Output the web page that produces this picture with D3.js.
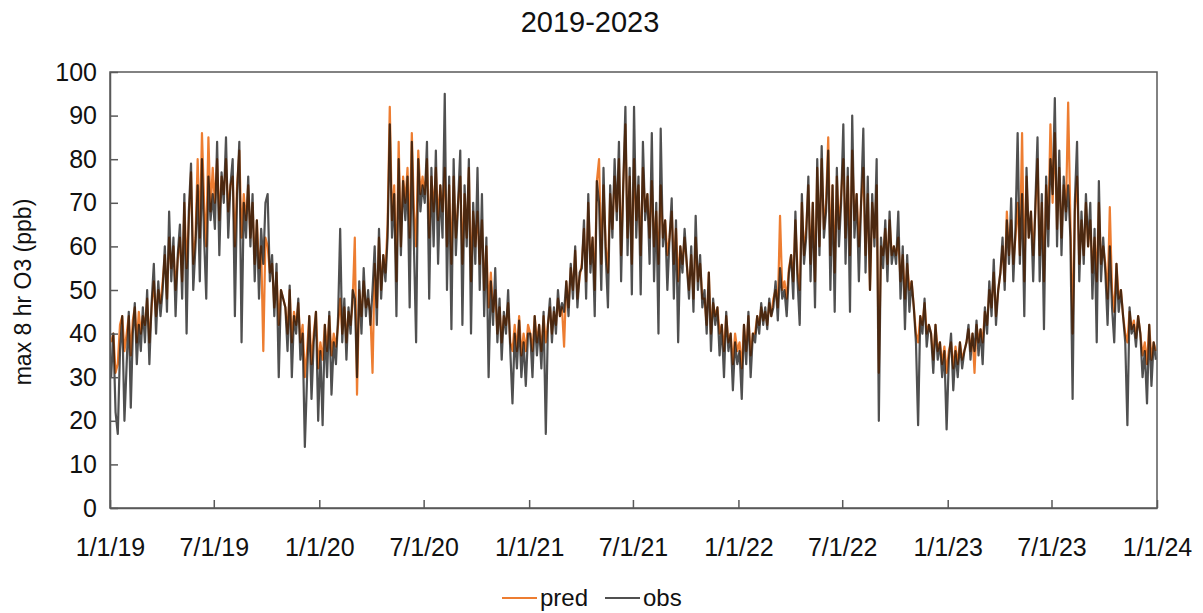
<!DOCTYPE html>
<html><head><meta charset="utf-8">
<script src="https://cdn.jsdelivr.net/npm/d3@7"></script>
<style>html,body{margin:0;padding:0;background:#fff;}svg{display:block;font-family:"Liberation Sans",Arial,sans-serif;}</style>
</head><body>
<svg id="chart" width="1203" height="613"></svg>
<script>
// 8 readings per month, Jan..Dec
const obs2019 = [30,40,22,17,36,44,20,33, 45,23,40,47,33,42,36,46, 38,50,33,47,56,40,52,44, 50,60,45,68,52,62,44,58,
  65,48,72,40,68,79,50,60, 74,52,80,62,48,76,66,72, 64,84,58,77,70,85,62,74, 80,44,72,84,38,70,62,76,
  60,72,52,66,48,64,56,70, 72,52,58,44,56,30,50,48, 46,36,51,30,44,40,48,34, 40,14,30,44,25,38,45,20];
const pred2019 = [38,40,31,33,42,44,36,40, 44,35,43,46,38,45,40,44, 42,48,38,46,52,44,50,47, 52,58,48,62,55,60,50,57,
  62,52,70,55,66,77,56,62, 80,62,86,70,60,85,68,78, 70,80,66,76,72,80,68,74, 76,60,74,82,62,72,66,74,
  62,70,56,66,55,60,36,62, 60,54,56,46,54,42,50,48, 46,40,50,38,45,42,47,38, 42,30,36,44,33,40,45,32];
const obs2020 = [36,19,42,30,45,26,38,33, 44,64,38,48,34,46,40,50, 48,30,52,40,55,44,50,42, 50,60,42,64,48,58,52,62,
  88,62,72,44,80,58,75,66, 76,46,84,60,38,80,68,74, 70,84,48,78,60,82,56,74, 62,95,50,76,41,80,58,70,
  82,42,74,60,80,40,70,56, 78,50,72,44,62,30,52,42, 55,38,48,34,45,40,50,36, 24,40,32,43,30,38,28,40];
const pred2020 = [38,34,42,36,44,35,40,37, 42,48,40,46,38,45,42,47, 62,26,50,44,52,46,48,45, 31,56,46,62,50,58,54,65,
  92,66,74,52,84,60,76,70, 78,62,86,68,60,82,72,76, 72,80,62,76,68,78,66,74, 68,78,60,74,56,76,62,70,
  76,56,72,62,78,52,68,60, 68,56,66,50,60,46,54,45, 50,40,46,38,44,42,47,38, 36,42,36,44,35,40,36,42];
const obs2021 = [40,30,44,35,42,32,45,17, 42,48,38,46,40,50,44,47, 45,52,44,56,48,60,46,54, 55,66,48,72,54,62,44,75,
  70,50,78,58,46,74,62,80, 66,84,52,74,92,58,78,49, 92,62,76,49,84,66,72,56, 86,52,70,40,87,60,66,50,
  62,71,48,66,38,60,54,64, 56,48,60,45,67,50,58,46, 50,40,54,36,48,42,46,35, 42,30,45,36,40,27,38,33];
const pred2021 = [40,36,44,38,42,36,44,38, 42,46,40,45,42,48,44,46, 37,52,46,55,50,59,48,53, 56,64,52,70,56,62,50,75,
  80,56,74,60,54,72,64,76, 68,80,58,74,88,62,76,56, 80,66,74,58,78,68,72,62, 75,60,68,56,74,62,66,58,
  62,68,56,64,52,60,56,62, 56,50,58,48,62,52,56,48, 48,42,54,40,47,44,46,40, 42,36,44,38,40,33,40,36];
const obs2022 = [36,25,42,33,45,30,40,38, 44,40,47,42,46,41,48,44, 46,52,43,55,48,50,44,54, 58,48,68,52,42,72,56,62,
  76,52,70,46,80,58,83,62, 68,82,50,74,45,78,60,70, 88,56,78,45,90,62,72,52, 70,87,54,76,50,72,60,80,
  20,62,55,66,52,68,56,60, 56,68,48,60,41,58,45,52, 46,38,19,44,40,48,37,42, 40,31,42,34,38,30,36,18];
const pred2022 = [38,32,42,36,44,35,40,40, 44,42,46,43,45,42,47,44, 48,50,46,67,50,52,48,55, 58,52,66,54,50,70,58,64,
  74,56,70,52,78,60,80,64, 70,85,58,74,54,76,64,72, 80,62,76,58,82,66,72,60, 70,78,58,72,50,70,62,74,
  31,60,58,64,56,66,58,60, 58,62,52,58,48,56,50,52, 46,40,38,44,42,47,40,42, 40,34,42,36,38,33,37,31];
const obs2023 = [34,40,27,36,30,38,32,36, 38,42,34,40,36,43,35,41, 33,46,40,52,44,57,42,50, 54,62,50,66,56,71,52,64,
  86,56,72,44,78,62,68,52, 70,85,52,72,41,76,60,80, 72,94,60,82,58,76,66,74, 62,25,70,84,52,68,56,72,
  60,70,48,64,38,75,52,62, 54,42,60,46,38,56,45,50, 44,38,19,46,40,42,37,44, 40,30,36,24,42,28,38,34];
const pred2023 = [36,38,32,37,33,38,34,36, 38,41,36,40,31,42,38,41, 38,45,42,50,46,54,44,50, 54,60,52,68,58,66,56,62,
  70,58,86,52,76,62,68,58, 68,80,58,70,52,74,64,88, 70,86,64,78,62,74,68,93, 66,40,68,76,56,66,58,70,
  60,66,54,62,52,70,56,60, 56,48,69,50,45,56,48,50, 44,40,38,45,41,43,39,44, 40,35,38,33,42,34,38,36];

const obsValues = [].concat(obs2019, obs2020, obs2021, obs2022, obs2023);
const predValues = [].concat(pred2019, pred2020, pred2021, pred2022, pred2023);
const yTicks = [0,10,20,30,40,50,60,70,80,90,100];
const xTickDates = ["2019-01-01","2019-07-01","2020-01-01","2020-07-01","2021-01-01","2021-07-01","2022-01-01","2022-07-01","2023-01-01","2023-07-01","2024-01-01"];
const seriesNames = ["pred","obs"];
const perMonth = 8;

const startDate = new Date(2019, 0, 1);
function dateAt(i) {
  const m = Math.floor(i / perMonth), k = i % perMonth;
  const m0 = d3.timeMonth.offset(startDate, m), m1 = d3.timeMonth.offset(startDate, m + 1);
  return new Date(m0.getTime() + (k + 0.5) / perMonth * (m1 - m0));
}
const obs = obsValues.map((v, i) => ({date: dateAt(i), v}));
const pred = predValues.map((v, i) => ({date: dateAt(i), v}));

const L = 110, R = 1157, T = 72, B = 508;
const FONT = '"Liberation Sans",Arial,sans-serif';
const svg = d3.select("#chart");
const x = d3.scaleTime().domain([new Date(2019,0,1), new Date(2024,0,1)]).range([L, R]);
const y = d3.scaleLinear().domain([0, 100]).range([B, T]);

svg.append("text").attr("x", 590).attr("y", 32).attr("text-anchor", "middle")
  .attr("font-size", 29).attr("fill", "#111").text("2019-2023");

svg.append("defs").append("clipPath").attr("id", "clip")
  .append("rect").attr("x", L).attr("y", T).attr("width", R - L).attr("height", B - T);

const line = d3.line().x(d => x(d.date)).y(d => y(d.v));
const g = svg.append("g").attr("clip-path", "url(#clip)");
g.append("path").datum(pred).attr("d", line).attr("fill", "none")
  .attr("stroke", "#ED7D31").attr("stroke-width", 2.2).attr("stroke-linejoin", "round");
g.append("path").datum(obs).attr("d", line).attr("fill", "none")
  .attr("stroke", "#505050").attr("stroke-width", 2.2).attr("stroke-linejoin", "round")
  .style("mix-blend-mode", "multiply");

// frame
svg.append("rect").attr("x", L).attr("y", T).attr("width", R - L).attr("height", B - T)
  .attr("fill", "none").attr("stroke", "#595959").attr("stroke-width", 1.5);

const fmt = d => `${d.getMonth() + 1}/${d.getDate()}/${String(d.getFullYear()).slice(2)}`;
const xAxis = d3.axisBottom(x).tickValues(xTickDates.map(s => d3.timeParse("%Y-%m-%d")(s)))
  .tickSizeInner(-8).tickSizeOuter(0).tickPadding(30).tickFormat(fmt);
const gx = svg.append("g").attr("transform", `translate(0,${B})`).call(xAxis);
const yAxis = d3.axisLeft(y).tickValues(yTicks).tickSizeInner(-8).tickSizeOuter(0).tickPadding(13);
const gy = svg.append("g").attr("transform", `translate(${L},0)`).call(yAxis);
[gx, gy].forEach(a => {
  a.select(".domain").attr("stroke", "#595959").attr("stroke-width", 1.5);
  a.selectAll(".tick line").attr("stroke", "#595959").attr("stroke-width", 1.5);
  a.selectAll("text").attr("font-size", 25).attr("fill", "#111").attr("font-family", FONT);
});

svg.append("text").attr("transform", "translate(31,292) rotate(-90)").attr("text-anchor", "middle")
  .attr("font-size", 23).attr("fill", "#111").text("max 8 hr O3 (ppb)");

// legend
const legend = [{name: seriesNames[0], color: "#ED7D31", x: 502}, {name: seriesNames[1], color: "#505050", x: 605}];
legend.forEach(l => {
  svg.append("line").attr("x1", l.x).attr("x2", l.x + 35).attr("y1", 598).attr("y2", 598)
    .attr("stroke", l.color).attr("stroke-width", 2.2);
  svg.append("text").attr("x", l.x + 38).attr("y", 606).attr("font-size", 24).attr("fill", "#111").text(l.name);
});
</script>
</body></html>
